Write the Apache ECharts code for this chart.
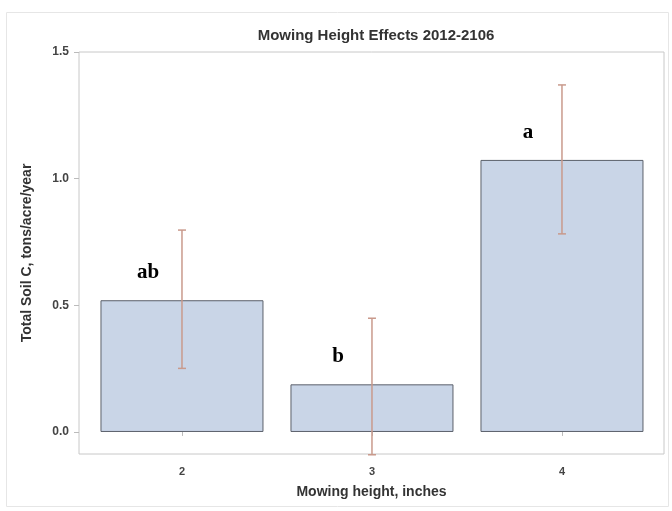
<!DOCTYPE html>
<html>
<head>
<meta charset="utf-8">
<script src="https://cdn.jsdelivr.net/npm/echarts@6/dist/echarts.min.js"></script>
<style>
  html, body { margin: 0; padding: 0; background: #fff; }
  #chart { width: 672px; height: 511px; }
</style>
</head>
<body>
<div id="chart"></div>
<script>
// mowing heights (inches) and mean soil C with error bar ends
var heights = [2, 3, 4];
var means = [0.52, 0.188, 1.074];
var upper = [0.797, 0.449, 1.370];
var lower = [0.251, -0.09, 0.782];
var letters = ['ab', 'b', 'a'];
var yTicks = [0, 0.5, 1.0, 1.5];

window.onload = function() {
  var myChart = echarts.init(document.getElementById('chart'));

  var barData = heights.map(function(h, i) { return [h, means[i]]; });
  var errData = heights.map(function(h, i) { return [h, lower[i], upper[i]]; });

  // error bar: vertical line with small caps
  function renderError(params, api) {
    var x = api.value(0);
    var lo = api.coord([x, api.value(1)]);
    var hi = api.coord([x, api.value(2)]);
    var cap = 4;
    var st = { stroke: '#c99a8c', lineWidth: 1.5 };
    return {
      type: 'group',
      children: [
        { type: 'line', shape: { x1: hi[0], y1: hi[1], x2: lo[0], y2: lo[1] }, style: st },
        { type: 'line', shape: { x1: hi[0] - cap, y1: hi[1], x2: hi[0] + cap, y2: hi[1] }, style: st },
        { type: 'line', shape: { x1: lo[0] - cap, y1: lo[1], x2: lo[0] + cap, y2: lo[1] }, style: st }
      ]
    };
  }

  var option = {
    animation: false,
    textStyle: { fontFamily: 'Liberation Sans' },
    title: {
      text: 'Mowing Height Effects 2012-2106',
      left: 371,
      top: 23,
      textAlign: 'center',
      textStyle: { fontSize: 15, fontWeight: 'bold', color: '#333' }
    },
    graphic: [{
      type: 'rect',
      shape: { x: 6.5, y: 12.5, width: 662, height: 494 },
      style: { fill: 'none', stroke: '#e6e6e6', lineWidth: 1 },
      silent: true
    }],
    grid: {
      left: 79, right: 8, top: 52, bottom: 57,
      show: true,
      borderColor: '#c8c8c8',
      borderWidth: 1
    },
    xAxis: {
      type: 'value',
      min: 1.458,
      max: 4.537,
      name: 'Mowing height, inches',
      nameLocation: 'middle',
      nameGap: 31,
      nameTextStyle: { fontSize: 14, fontWeight: 'bold', color: '#333' },
      axisLine: { show: false },
      splitLine: { show: false },
      axisTick: { show: true, length: 4, customValues: heights, lineStyle: { color: '#bbb' } },
      axisLabel: { customValues: heights, fontSize: 11, fontWeight: 'bold', color: '#444', margin: 12 }
    },
    yAxis: {
      type: 'value',
      min: -0.087,
      max: 1.5,
      name: 'Total Soil C, tons/acre/year',
      nameLocation: 'middle',
      nameGap: 45,
      nameTextStyle: { fontSize: 14, fontWeight: 'bold', color: '#333' },
      axisLine: { show: false },
      splitLine: { show: false },
      axisTick: { show: true, length: 5, customValues: yTicks, lineStyle: { color: '#bbb' } },
      axisLabel: {
        customValues: yTicks,
        fontSize: 12, fontWeight: 'bold', color: '#444', margin: 10,
        formatter: function(v) { return v.toFixed(1); }
      }
    },
    series: [{
      type: 'bar',
      data: barData,
      barWidth: 163,
      itemStyle: { color: '#c9d5e7', borderColor: '#5b606b', borderWidth: 1 },
      label: {
        show: true,
        position: 'top',
        offset: [-34, -12],
        formatter: function(p) { return letters[p.dataIndex]; },
        fontFamily: 'Liberation Serif',
        fontWeight: 'bold',
        fontSize: 21,
        color: '#000'
      }
    }, {
      type: 'custom',
      renderItem: renderError,
      data: errData,
      encode: { x: 0, y: [1, 2] },
      z: 10
    }]
  };

  myChart.setOption(option);
};
</script>
</body>
</html>
